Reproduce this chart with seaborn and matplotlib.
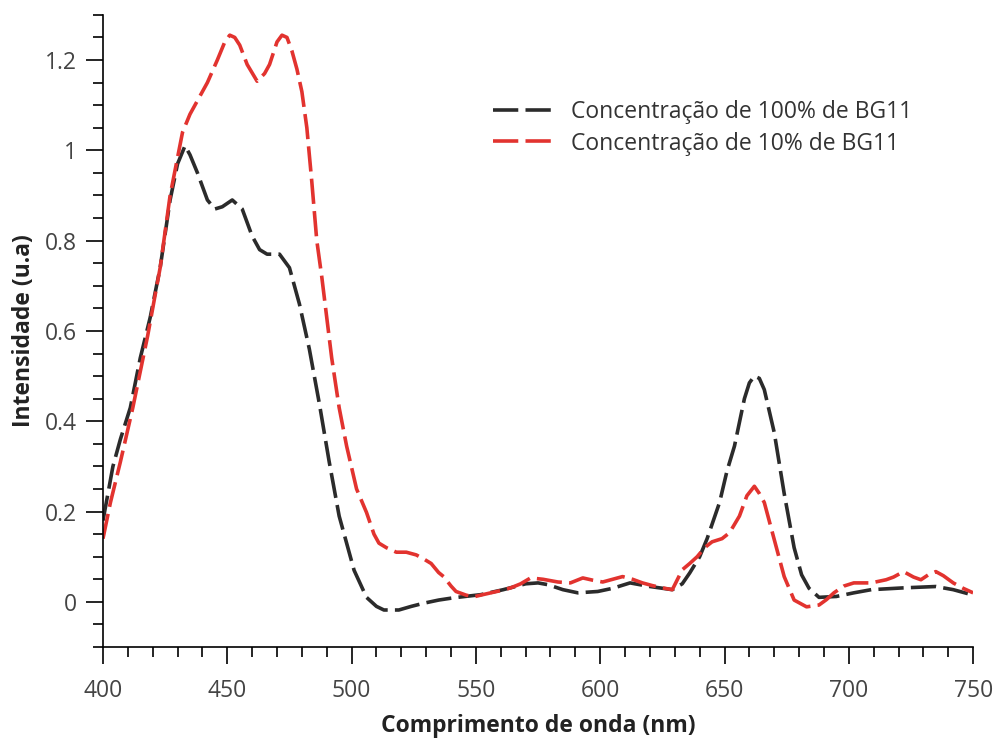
import pandas as pd
import matplotlib.pyplot as plt
import matplotlib.ticker as mticker
import seaborn as sns

x_100 = [400, 404, 407, 411, 415, 419, 423, 427, 430, 433, 435, 438, 442, 445, 448,
         452, 456, 460, 463, 466, 471, 475, 479, 483, 487, 491, 495, 498, 501, 506,
         510, 513, 519, 524, 529, 535, 541, 552, 561, 570, 575, 579, 585, 591, 599,
         605, 612, 620, 629, 633, 636, 640, 643, 648, 651, 654, 658, 660, 662, 664,
         666, 670, 674, 678, 681, 684, 688, 695, 702, 709, 722, 735, 742, 750]
y_100 = [0.18, 0.30, 0.36, 0.43, 0.54, 0.63, 0.74, 0.89, 0.97, 1.01, 0.99, 0.95, 0.89, 0.87, 0.875,
         0.89, 0.87, 0.81, 0.78, 0.77, 0.77, 0.74, 0.66, 0.56, 0.44, 0.31, 0.19, 0.13, 0.07, 0.01,
         -0.01, -0.018, -0.018, -0.01, -0.003, 0.004, 0.009, 0.016, 0.027, 0.040, 0.042, 0.038, 0.027, 0.02, 0.023,
         0.03, 0.042, 0.034, 0.027, 0.04, 0.064, 0.10, 0.14, 0.22, 0.29, 0.345, 0.45, 0.485, 0.50, 0.495,
         0.47, 0.375, 0.24, 0.12, 0.06, 0.03, 0.01, 0.012, 0.02, 0.027, 0.031, 0.034, 0.027, 0.015]

x_10 = [400, 403, 407, 412, 418, 423, 427, 432, 435, 438, 442, 446, 449, 451, 453,
        455, 458, 462, 465, 467, 470, 472, 474, 476, 478, 480, 482, 484, 486, 488,
        492, 495, 498, 502, 506, 509, 511, 514, 518, 522, 526, 529, 532, 535, 537,
        540, 542, 546, 549, 552, 556, 560, 564, 568, 572, 577, 583, 588, 593, 597,
        601, 605, 609, 613, 617, 621, 625, 629, 633, 636, 639, 642, 645, 649, 652,
        656, 659, 662, 664, 666, 670, 674, 678, 683, 688, 691, 694, 698, 702, 709,
        715, 718, 722, 726, 729, 732, 735, 738, 742, 746, 750]
y_10 = [0.14, 0.22, 0.31, 0.43, 0.59, 0.74, 0.90, 1.04, 1.08, 1.11, 1.15, 1.20, 1.24, 1.255, 1.25,
        1.233, 1.19, 1.153, 1.17, 1.19, 1.24, 1.255, 1.25, 1.22, 1.18, 1.13, 1.05, 0.93, 0.80, 0.72,
        0.54, 0.43, 0.345, 0.25, 0.198, 0.15, 0.13, 0.12, 0.11, 0.11, 0.104, 0.095, 0.085, 0.065, 0.056,
        0.035, 0.023, 0.015, 0.011, 0.015, 0.02, 0.025, 0.031, 0.04, 0.053, 0.05, 0.044, 0.042, 0.053, 0.048,
        0.044, 0.05, 0.056, 0.05, 0.042, 0.036, 0.031, 0.027, 0.071, 0.085, 0.10, 0.12, 0.133, 0.14, 0.153,
        0.19, 0.235, 0.256, 0.24, 0.22, 0.138, 0.056, 0.004, -0.011, -0.007, 0.005, 0.02, 0.035, 0.042, 0.042,
        0.049, 0.055, 0.067, 0.055, 0.049, 0.06, 0.067, 0.058, 0.042, 0.03, 0.02]

serie_100 = 'Concentração de 100% de BG11'
serie_10 = 'Concentração de 10% de BG11'

df = pd.concat([
    pd.DataFrame({'onda': x_100, 'intensidade': y_100, 'serie': serie_100}),
    pd.DataFrame({'onda': x_10, 'intensidade': y_10, 'serie': serie_10}),
], ignore_index=True)

sns.set_style('white')
plt.rcParams['font.family'] = ['Open Sans', 'Noto Sans', 'DejaVu Sans']

fig = plt.figure(figsize=(9.93, 7.42), dpi=100)
ax = fig.add_axes([0.1037, 0.128, 0.8763, 0.852])

cores = {serie_100: '#2b2b2b', serie_10: '#e2332f'}
tracos = {serie_100: (7, 2), serie_10: (7, 2)}
sns.lineplot(data=df, x='onda', y='intensidade', hue='serie', style='serie',
             palette=cores, dashes=tracos, estimator=None, sort=False,
             linewidth=2.6, ax=ax)

ax.set_xlim(400, 750)
ax.set_ylim(-0.1, 1.3)
ax.xaxis.set_major_locator(mticker.MultipleLocator(50))
ax.xaxis.set_minor_locator(mticker.MultipleLocator(10))
ax.yaxis.set_major_locator(mticker.MultipleLocator(0.2))
ax.yaxis.set_minor_locator(mticker.MultipleLocator(0.05))
ax.yaxis.set_major_formatter(mticker.FuncFormatter(lambda v, p: f'{v:g}'))

for lado in ['top', 'right']:
    ax.spines[lado].set_visible(False)
for lado in ['left', 'bottom']:
    ax.spines[lado].set_color('black')
    ax.spines[lado].set_linewidth(1.2)

ax.tick_params(which='major', direction='out', length=12, width=1.2,
               color='black', labelsize=16.5, labelcolor='#444444', pad=7, left=True, bottom=True)
ax.tick_params(axis='x', which='major', pad=11)
ax.tick_params(which='minor', direction='out', length=7, width=1.2,
               color='black', left=True, bottom=True)

ax.set_xlabel('Comprimento de onda (nm)', fontsize=16.5, fontweight='bold', color='#222222', labelpad=8)
ax.set_ylabel('Intensidade (u.a)', fontsize=16.5, fontweight='bold', color='#222222', labelpad=6)

handles, labels = ax.get_legend_handles_labels()
ax.legend(handles, labels, loc='upper left', bbox_to_anchor=(0.425, 0.898),
          frameon=False, fontsize=16.5, handlelength=2.6, handletextpad=0.8,
          labelspacing=0.33, labelcolor='#333333')

fig.savefig('out.png', dpi=100)
